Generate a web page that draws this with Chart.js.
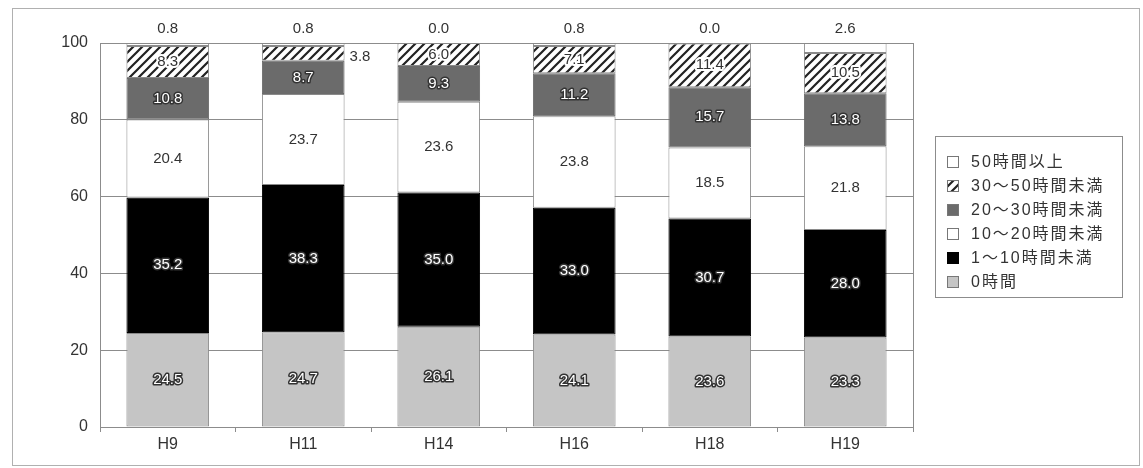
<!DOCTYPE html>
<html lang="ja">
<head>
<meta charset="utf-8">
<title>家庭学習時間の推移</title>
<script src="https://cdn.jsdelivr.net/npm/chart.js@4/dist/chart.umd.min.js"></script>
<style>
  html, body { margin: 0; padding: 0; background: #fff; }
  #wrap { position: relative; width: 1143px; height: 468px; }
  #frame { position: absolute; left: 12px; top: 8px; width: 1128px; height: 458px;
           border: 1px solid #b0b0b0; box-sizing: border-box; pointer-events: none; }
</style>
</head>
<body>
<div id="wrap">
  <canvas id="hoursChart" width="1143" height="468"></canvas>
  <div id="frame"></div>
</div>
<script>
// survey years and share (%) of each time band, bottom of the stack first
const years = ['H9', 'H11', 'H14', 'H16', 'H18', 'H19'];
const seriesNames = ['0時間', '1～10時間未満', '10～20時間未満', '20～30時間未満', '30～50時間未満', '50時間以上'];
const zeroHours = [24.5, 24.7, 26.1, 24.1, 23.6, 23.3];
const under10 = [35.2, 38.3, 35.0, 33.0, 30.7, 28.0];
const under20 = [20.4, 23.7, 23.6, 23.8, 18.5, 21.8];
const under30 = [10.8, 8.7, 9.3, 11.2, 15.7, 13.8];
const under50 = [8.3, 3.8, 6.0, 7.1, 11.4, 10.5];
const over50 = [0.8, 0.8, 0.0, 0.8, 0.0, 2.6];
const yTicks = [0, 20, 40, 60, 80, 100];

const FONT = '"Liberation Sans", "Noto Sans CJK JP", Arial, sans-serif';

// diagonal hatch used for the 30-50h band
function makeHatch(ctx) {
    const c = document.createElement('canvas');
    c.width = 9; c.height = 9;
    const g = c.getContext('2d');
    g.fillStyle = '#fff';
    g.fillRect(0, 0, 9, 9);
    g.strokeStyle = '#222';
    g.lineWidth = 2.2;
    g.beginPath();
    g.moveTo(-1, 10); g.lineTo(10, -1);
    g.moveTo(-3, 3); g.lineTo(3, -3);
    g.moveTo(6, 12); g.lineTo(12, 6);
    g.stroke();
    return ctx.createPattern(c, 'repeat');
}

const ctx = document.getElementById('hoursChart').getContext('2d');
const hatch = makeHatch(ctx);

const fills = ['#c5c5c5', '#000000', '#ffffff', '#6b6b6b', hatch, '#ffffff'];
const borders = ['#8a8a8a', '#000000', '#8a8a8a', '#6b6b6b', '#8a8a8a', '#8a8a8a'];
// how each band's value is written: halo = white text with dark edge
const labelKinds = ['halo', 'halo', 'plain', 'halo', 'hatch', 'top'];
const seriesData = [zeroHours, under10, under20, under30, under50, over50];

const datasets = seriesData.map((d, i) => ({
    label: seriesNames[i],
    data: d,
    backgroundColor: fills[i],
    borderColor: borders[i],
    borderWidth: 1,
    borderSkipped: false,
    barPercentage: 0.61,
    categoryPercentage: 1.0
}));

// frame round the plot area
const plotFrame = {
    id: 'plotFrame',
    beforeDatasetsDraw(chart) {
        const a = chart.chartArea;
        const c = chart.ctx;
        c.save();
        c.strokeStyle = '#8c8c8c';
        c.lineWidth = 1;
        c.strokeRect(Math.round(a.left) + 0.5, Math.round(a.top) + 0.5,
                     Math.round(a.right - a.left), Math.round(a.bottom - a.top));
        c.restore();
    }
};

// value labels on every segment
const segmentLabels = {
    id: 'segmentLabels',
    afterDatasetsDraw(chart) {
        const c = chart.ctx;
        const area = chart.chartArea;
        c.save();
        c.font = '15px ' + FONT;
        c.textBaseline = 'middle';
        c.lineJoin = 'round';
        chart.data.datasets.forEach((ds, di) => {
            const meta = chart.getDatasetMeta(di);
            meta.data.forEach((bar, i) => {
                const txt = ds.data[i].toFixed(1);
                const top = Math.min(bar.y, bar.base);
                const bottom = Math.max(bar.y, bar.base);
                const h = bottom - top;
                const cy = (top + bottom) / 2;
                const kind = labelKinds[di];
                c.textAlign = 'center';
                if (kind === 'top') {
                    c.fillStyle = '#333';
                    c.fillText(txt, bar.x, area.top - 14);
                } else if (h < 18) {
                    c.textAlign = 'left';
                    c.fillStyle = '#333';
                    c.fillText(txt, bar.x + bar.width / 2 + 5, cy + 3);
                } else if (kind === 'halo') {
                    c.strokeStyle = '#333';
                    c.lineWidth = 3;
                    c.strokeText(txt, bar.x, cy);
                    c.fillStyle = '#fff';
                    c.fillText(txt, bar.x, cy);
                } else if (kind === 'hatch') {
                    c.strokeStyle = '#fff';
                    c.lineWidth = 4;
                    c.strokeText(txt, bar.x, cy);
                    c.fillStyle = '#333';
                    c.fillText(txt, bar.x, cy);
                } else {
                    c.fillStyle = '#333';
                    c.fillText(txt, bar.x, cy);
                }
            });
        });
        c.restore();
    }
};

// boxed legend to the right, top band first
const boxLegend = {
    id: 'boxLegend',
    afterDraw(chart) {
        const c = chart.ctx;
        const x0 = 935, y0 = 136, w = 187, h = 161;
        c.save();
        c.strokeStyle = '#8c8c8c';
        c.lineWidth = 1;
        c.strokeRect(x0 + 0.5, y0 + 0.5, w, h);
        c.font = '16px ' + FONT;
        c.textBaseline = 'middle';
        c.textAlign = 'left';
        if ('letterSpacing' in c) c.letterSpacing = '2px';
        const order = chart.data.datasets.map((d, i) => i).reverse();
        order.forEach((di, row) => {
            const ds = chart.data.datasets[di];
            const cy = y0 + 26 + row * 24;
            c.fillStyle = ds.backgroundColor;
            c.fillRect(947, cy - 6, 12, 12);
            c.strokeStyle = di === 1 ? '#000' : '#777';
            c.strokeRect(947.5, cy - 5.5, 11, 11);
            c.fillStyle = '#333';
            c.fillText(ds.label, 971, cy + 1);
        });
        c.restore();
    }
};

new Chart(ctx, {
    type: 'bar',
    data: { labels: years, datasets: datasets },
    options: {
        responsive: false,
        animation: false,
        devicePixelRatio: 1,
        layout: { padding: { top: 43, right: 230, left: 0, bottom: 0 } },
        plugins: {
            legend: { display: false },
            tooltip: { enabled: false }
        },
        scales: {
            x: {
                stacked: true,
                offset: true,
                grid: { offset: true, drawOnChartArea: false, color: '#8c8c8c', tickLength: 5 },
                border: { color: '#8c8c8c' },
                ticks: { color: '#333', font: { family: FONT, size: 16 }, padding: 3 },
                afterFit(scale) { scale.height = 41; }
            },
            y: {
                stacked: true,
                min: 0,
                max: 100,
                afterBuildTicks(scale) { scale.ticks = yTicks.map(v => ({ value: v })); },
                grid: { color: '#8c8c8c', drawTicks: false },
                border: { color: '#8c8c8c' },
                ticks: { color: '#333', font: { family: FONT, size: 16 }, padding: 12 },
                afterFit(scale) { scale.width = 100; }
            }
        }
    },
    plugins: [plotFrame, segmentLabels, boxLegend]
});
</script>
</body>
</html>
